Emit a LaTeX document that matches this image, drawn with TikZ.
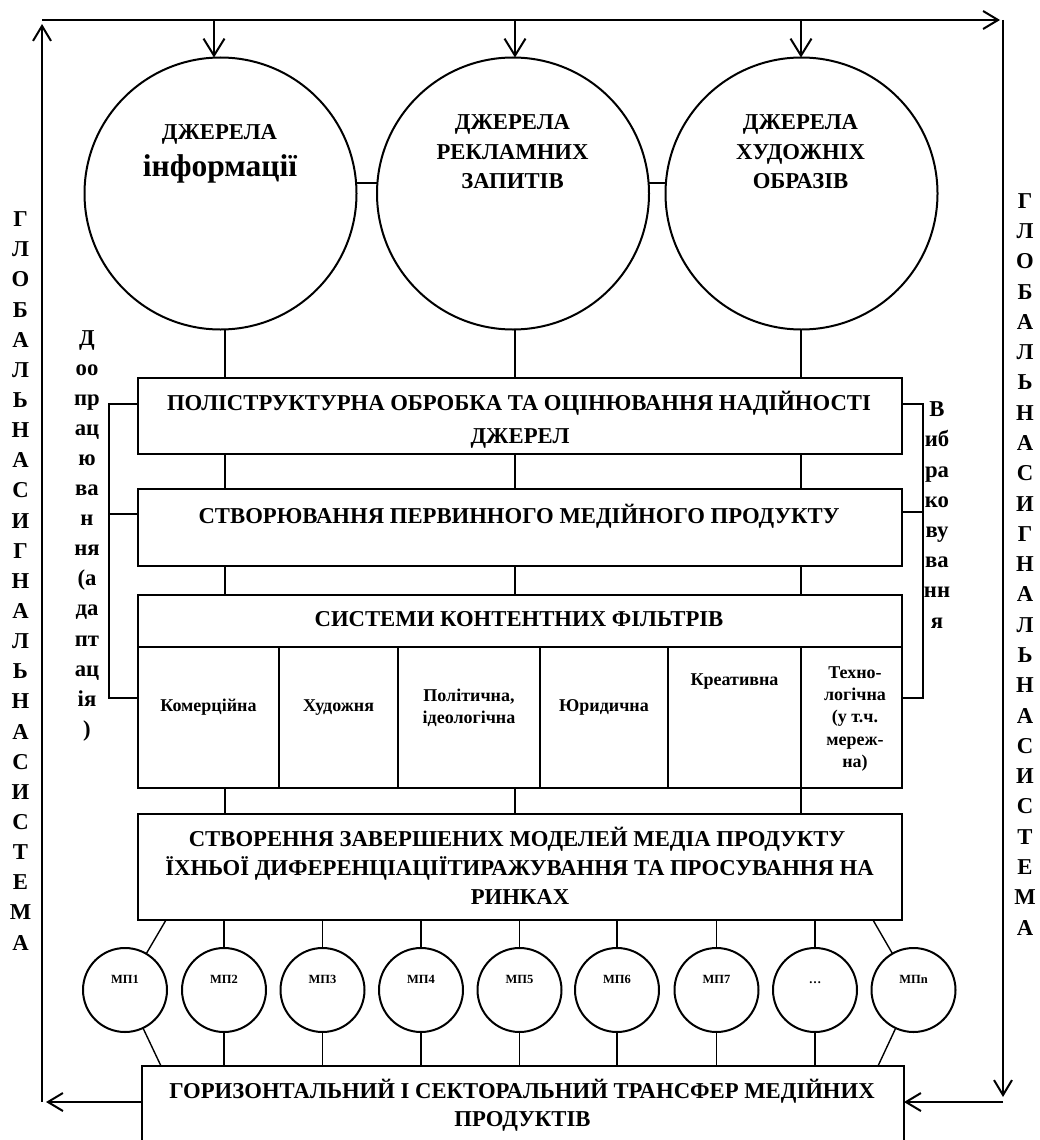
\documentclass[tikz,border=0pt]{standalone}
\usepackage{fontspec}
\setmainfont{Liberation Serif}
\usetikzlibrary{arrows.meta}
\begin{document}
\begin{tikzpicture}[x=1pt,y=-1pt,
  every node/.style={inner sep=0pt, outer sep=0pt},
  txt/.style={font=\fontsize{22.7}{26}\selectfont\bfseries, anchor=base},
  celltxt/.style={font=\fontsize{18}{22}\selectfont\bfseries, anchor=base},
  mptxt/.style={font=\fontsize{12.5}{15}\selectfont\bfseries, anchor=base},
  bigtxt/.style={font=\fontsize{31.5}{34}\selectfont\bfseries, anchor=base},
  box/.style={draw, line width=2.2pt, rectangle},
  bigc/.style={draw, circle, line width=2pt, minimum size=272pt},
  smc/.style={draw, circle, line width=2pt, minimum size=84pt},
  conn/.style={line width=1.4pt},
  brk/.style={line width=2pt},
  outer/.style={line width=2pt, -{Straight Barb[length=15pt,width=18pt,line width=2pt]}},
  downarr/.style={line width=2pt, -{Straight Barb[length=17pt,width=21pt,line width=2pt]}}
]
\useasboundingbox (0,0) rectangle (1039,1140);
\clip (0,0) rectangle (1039,1140);

% ---- big circles
\node[bigc] (c1) at (220.5,193.5) {};
\node[bigc] (c2) at (513,193.5) {};
\node[bigc] (c3) at (801.5,193.5) {};
\node[txt] (c1a) at (219.5,139.3) {ДЖЕРЕЛА};
\node[bigtxt] (c1b) at (220,176.7) {інформації};
\node[txt] (c2a) at (512.5,129) {ДЖЕРЕЛА};
\node[txt] (c2b) at (512.5,159) {РЕКЛАМНИХ};
\node[txt] (c2c) at (512.5,188.5) {ЗАПИТІВ};
\node[txt] (c3a) at (800.5,129) {ДЖЕРЕЛА};
\node[txt] (c3b) at (800.5,159) {ХУДОЖНІХ};
\node[txt] (c3c) at (800.5,188.5) {ОБРАЗІВ};
\draw[conn] ([yshift=10.5pt]c1.east) -- ([yshift=10.5pt]c2.west);
\draw[conn] ([yshift=10.5pt]c2.east) -- ([yshift=10.5pt]c3.west);

% ---- boxes
\node[box, minimum width=764pt, minimum height=76pt] (b1) at (520,416) {};
\node[box, minimum width=764pt, minimum height=77pt] (b2) at (520,527.5) {};
\node[box, minimum width=764pt, minimum height=52pt] (hdr) at (520,621) {};
\node[box, minimum width=141pt, minimum height=141pt] (f1) at (208.5,717.5) {};
\node[box, minimum width=119pt, minimum height=141pt] (f2) at (338.5,717.5) {};
\node[box, minimum width=142pt, minimum height=141pt] (f3) at (469,717.5) {};
\node[box, minimum width=128pt, minimum height=141pt] (f4) at (604,717.5) {};
\node[box, minimum width=133pt, minimum height=141pt] (f5) at (734.5,717.5) {};
\node[box, minimum width=101pt, minimum height=141pt] (f6) at (851.5,717.5) {};
\node[box, minimum width=764pt, minimum height=106pt] (b4) at (520,867) {};
\node[box, minimum width=762pt, minimum height=90pt] (b5) at (523,1111) {};

\node[txt] (b1a) at (519,410) {ПОЛІСТРУКТУРНА ОБРОБКА ТА ОЦІНЮВАННЯ НАДІЙНОСТІ};
\node[txt] (b1b) at (520,443) {ДЖЕРЕЛ};
\node[txt] (b2a) at (519,523.3) {СТВОРЮВАННЯ ПЕРВИННОГО МЕДІЙНОГО ПРОДУКТУ};
\node[txt] (hdra) at (519,626.7) {СИСТЕМИ КОНТЕНТНИХ ФІЛЬТРІВ};
\node[celltxt] (f1a) at (208.5,711.7) {Комерційна};
\node[celltxt] (f2a) at (338.5,711.7) {Художня};
\node[celltxt] (f3a) at (469,701.7) {Політична,};
\node[celltxt] (f3b) at (469,723.3) {ідеологічна};
\node[celltxt] (f4a) at (604,711.7) {Юридична};
\node[celltxt] (f5a) at (734.5,685) {Креативна};
\node[celltxt] (f6a) at (855,678) {Техно-};
\node[celltxt] (f6b) at (855,700) {логічна};
\node[celltxt] (f6c) at (855,722.5) {(у т.ч.};
\node[celltxt] (f6d) at (855,745) {мереж-};
\node[celltxt] (f6e) at (855,767) {на)};
\node[txt] (b4a) at (517,846.7) {СТВОРЕННЯ ЗАВЕРШЕНИХ МОДЕЛЕЙ МЕДІА ПРОДУКТУ};
\node[txt] (b4b) at (519.5,875) {ЇХНЬОЇ ДИФЕРЕНЦІАЦІЇТИРАЖУВАННЯ ТА ПРОСУВАННЯ НА};
\node[txt] (b4c) at (520,904) {РИНКАХ};
\node[txt] (b5a) at (522,1098.3) {ГОРИЗОНТАЛЬНИЙ І СЕКТОРАЛЬНИЙ ТРАНСФЕР МЕДІЙНИХ};
\node[txt] (b5b) at (522.5,1126.7) {ПРОДУКТІВ};

% ---- vertical connectors between circles and boxes
\foreach \xx in {225,515,801}{
  \draw[conn] (\xx,404 |- b1.south) -- (\xx,404 |- b2.north);
  \draw[conn] (\xx,404 |- b2.south) -- (\xx,404 |- hdr.north);
  \draw[conn] (\xx,404 |- f1.south) -- (\xx,404 |- b4.north);
}
\draw[conn] (225,0 |- c1.south) -- (225,0 |- b1.north);
\draw[conn] (515,0 |- c2.south) -- (515,0 |- b1.north);
\draw[conn] (801,0 |- c3.south) -- (801,0 |- b1.north);

% ---- small circles
\foreach \xx/\lab [count=\i] in {125/МП1,224/МП2,322.5/МП3,421/МП4,519.5/МП5,617/МП6,716.5/МП7,815/\dots,913.5/МПn}{
  \node[smc] (mp\i) at (\xx,990) {};
  \node[mptxt] (mpt\i) at (\xx,983.3) {\lab};
}
\foreach \i in {2,...,8}{
  \draw[conn] (mp\i.north) -- (mp\i.north |- b4.south);
  \draw[conn] (mp\i.south) -- (mp\i.south |- b5.north);
}
\draw[conn] (mp1) -- (166,0 |- b4.south);
\draw[conn] (mp1) -- (161,0 |- b5.north);
\draw[conn] (mp9) -- (873,0 |- b4.south);
\draw[conn] (mp9) -- (878,0 |- b5.north);

% ---- brackets
\coordinate (lb1) at (109,404);
\coordinate (lb2) at (109,514);
\coordinate (lb3) at (109,698);
\coordinate (rb1) at (923,404);
\coordinate (rb2) at (923,512);
\coordinate (rb3) at (923,698);
\draw[brk] (b1.west |- lb1) -- (lb1) -- (lb3) -- (f1.west |- lb3);
\draw[brk] (lb2) -- (b2.west |- lb2);
\draw[brk] (b1.east |- rb1) -- (rb1) -- (rb3) -- (f6.east |- rb3);
\draw[brk] (rb2) -- (b2.east |- rb2);

% ---- outer loop
\coordinate (tl) at (42,20);
\coordinate (tlu) at (42,24);
\coordinate (tre) at (1000,20);
\coordinate (tr) at (1003,20);
\coordinate (rd) at (1003,1097);
\coordinate (br) at (1003,1102);
\coordinate (bl) at (42,1102);
\coordinate (ble) at (46,1102);
\draw[outer] (bl) -- (tlu);
\draw[outer] (tl) -- (tre);
\draw[outer] (tr) -- (rd);
\draw[outer] (br) -- (br -| b5.east);
\draw[outer] (bl -| b5.west) -- (ble);
\coordinate (t1) at (214,20);
\coordinate (t2) at (515,20);
\coordinate (t3) at (801,20);
\draw[downarr] (t1) -- (t1 |- c1.north);
\draw[downarr] (t2) -- (t2 |- c2.north);
\draw[downarr] (t3) -- (t3 |- c3.north);

% ---- side texts
\foreach \ch [count=\i from 0] in {Г,Л,О,Б,А,Л,Ь,Н,А,С,И,Г,Н,А,Л,Ь,Н,А,С,И,С,Т,Е,М,А}{
  \node[txt] (gl\i) at (20.5,{226.7+30.14*\i}) {\ch};
  \node[txt] (gr\i) at (1025,{208.3+30.28*\i}) {\ch};
}
\foreach \ch [count=\i from 0] in {Д,оо,пр,ац,ю,ва,н,ня,{(а},да,пт,ац,ія,{)}}{
  \node[txt] (dp\i) at (87,{345+30.1*\i}) {\ch};
}
\foreach \ch [count=\i from 0] in {В,иб,ра,ко,ву,ва,нн,я}{
  \node[txt] (vb\i) at (937,{416.7+30.2*\i}) {\ch};
}
\end{tikzpicture}
\end{document}
